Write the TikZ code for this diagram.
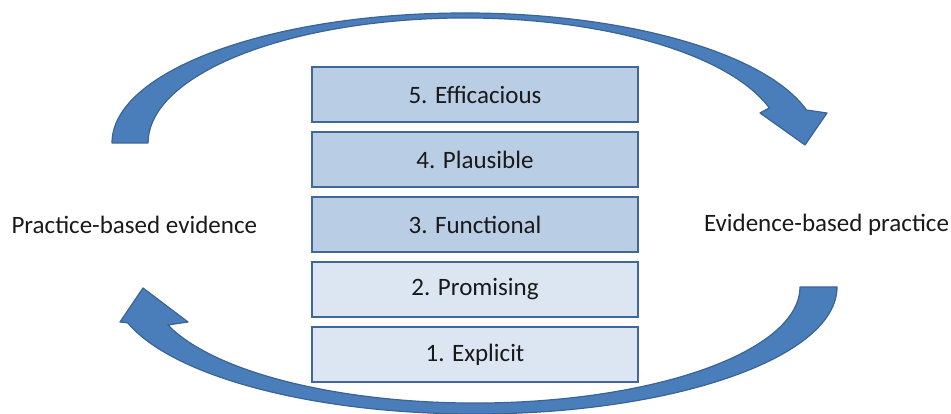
\documentclass[tikz,border=0pt]{standalone}
\usepackage{fontspec}
\setmainfont{Carlito}
\usetikzlibrary{positioning}
\definecolor{cyclefill}{HTML}{4A7EBB}
\definecolor{cycleline}{HTML}{3A6396}
\definecolor{levelline}{HTML}{41679A}
\definecolor{levelhigh}{HTML}{B9CDE5}
\definecolor{levellow}{HTML}{DCE6F2}
\tikzset{
ladder/.style={x=1pt,y=1pt,node distance=8.4pt,
font=\fontsize{25}{30}\selectfont},
level/.style={rectangle,draw=levelline,line width=1.6pt,
minimum width=326pt,minimum height=55pt,inner sep=0pt,text=black!90},
high/.style={level,fill=levelhigh},
low/.style={level,fill=levellow},
side/.style={inner sep=0pt,text=black!90},
cycle arrow/.style={fill=cyclefill,draw=cycleline,line width=1.2pt,
line join=round},
}

\begin{document}
\begin{tikzpicture}[ladder]
    \useasboundingbox (0,0) rectangle (951,414);

    % the five levels
    \node[high] (eff) at (475,319.5) {5. Efficacious};
    \node[high,below=of eff] (pla) {4. Plausible};
    \node[high,below=of pla] (fun) {3. Functional};
    \node[low,below=of fun] (pro) {2. Promising};
    \node[low,below=of pro] (exp) {1. Explicit};

    \node[side,left=54pt of fun] (pbe) {Practice-based evidence};
    \node[side,right=65pt of fun] (ebp) {Evidence-based practice};

    % upper arc, left to right
    \draw[cycle arrow] (112,271)
        arc[start angle=180,end angle=14.7,x radius=353,y radius=130]
        -- (827,301) -- (805,269) -- (760,301) -- (769.3,306.1)
        arc[start angle=16.3,end angle=180,x radius=317,y radius=125]
        -- cycle;
    % lower arc, right to left
    \draw[cycle arrow] (837,127)
        arc[start angle=0,end angle=-163.6,x radius=362,y radius=127]
        -- (120,92) -- (143,126) -- (188,92) -- (167.9,89)
        arc[start angle=-160.9,end angle=0,x radius=325,y radius=116]
        -- cycle;
\end{tikzpicture}
\end{document}
